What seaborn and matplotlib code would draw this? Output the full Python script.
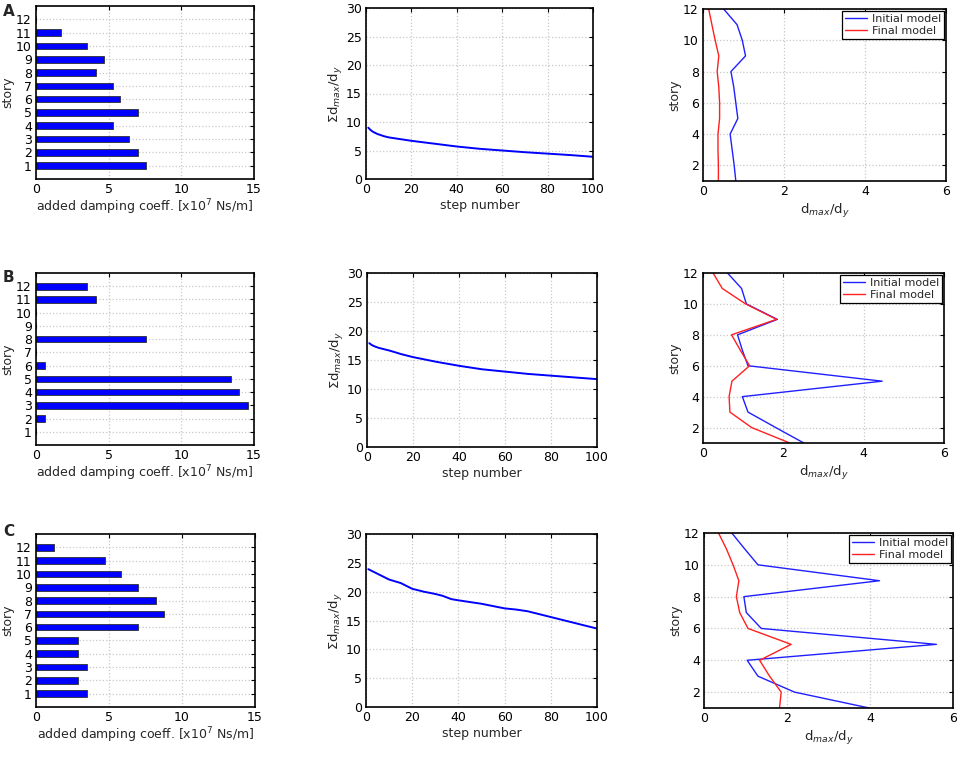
import numpy as np
import pandas as pd
import matplotlib
matplotlib.use("Agg")
import matplotlib.pyplot as plt
import seaborn as sns

# ---- data ----
stories = list(range(1, 13))

# added damping coefficient per story [x10^7 Ns/m], story 1..12
damping_a = [7.6, 7.0, 6.4, 5.3, 7.0, 5.8, 5.3, 4.1, 4.7, 3.5, 1.7, 0.0]
damping_b = [0.0, 0.6, 14.6, 14.0, 13.4, 0.6, 0.0, 7.6, 0.0, 0.0, 4.1, 3.5]
damping_c = [3.5, 2.9, 3.5, 2.9, 2.9, 7.0, 8.8, 8.2, 7.0, 5.8, 4.7, 1.2]

# sum of dmax/dy vs step number
steps_a = [1, 2, 3, 5, 8, 10, 15, 20, 30, 40, 50, 60, 70, 80, 90, 100]
sum_a = [9.0, 8.6, 8.3, 7.9, 7.5, 7.3, 7.0, 6.7, 6.2, 5.7, 5.3, 5.0, 4.7, 4.45, 4.2, 3.9]
steps_b = [1, 2, 3, 5, 10, 15, 20, 30, 40, 50, 60, 70, 80, 90, 100]
sum_b = [17.9, 17.6, 17.4, 17.1, 16.6, 16.0, 15.5, 14.7, 14.0, 13.4, 13.0, 12.6, 12.3, 12.0, 11.7]
steps_c = [1, 5, 10, 15, 20, 25, 30, 33, 37, 40, 50, 60, 65, 70, 80, 85, 90, 100]
sum_c = [23.9, 23.1, 22.1, 21.5, 20.5, 20.0, 19.6, 19.3, 18.7, 18.5, 17.9, 17.1, 16.9, 16.6, 15.6, 15.1, 14.6, 13.6]

# dmax/dy profiles, story 1..12
init_a = [0.81, 0.77, 0.72, 0.67, 0.86, 0.81, 0.76, 0.69, 1.05, 0.97, 0.84, 0.51]
final_a = [0.38, 0.38, 0.37, 0.37, 0.41, 0.41, 0.39, 0.35, 0.39, 0.30, 0.22, 0.14]
init_b = [2.51, 1.81, 1.12, 0.98, 4.46, 1.12, 0.98, 0.86, 1.85, 1.08, 0.96, 0.61]
final_b = [2.16, 1.21, 0.67, 0.65, 0.72, 1.16, 0.93, 0.71, 1.83, 1.06, 0.48, 0.25]
init_c = [3.98, 2.18, 1.30, 1.04, 5.60, 1.38, 1.02, 0.96, 4.23, 1.30, 0.98, 0.67]
final_c = [1.82, 1.86, 1.58, 1.34, 2.10, 1.06, 0.86, 0.78, 0.84, 0.70, 0.54, 0.35]

panel_labels = ["A", "B", "C"]

sns.set_style("white")
plt.rcParams['font.family'] = ['DejaVu Sans']
plt.rcParams['mathtext.fontset'] = 'dejavusans'

W, H = 960, 758
fig = plt.figure(figsize=(W / 100, H / 100), dpi=100)


def rect(l, t, r, b):
    return [l / W, 1 - b / H, (r - l) / W, (b - t) / H]


# pixel boxes (left, top, right, bottom) for each row
bar_boxes = [(36, 6, 254, 179), (36, 273, 254, 445), (36, 534, 255, 707)]
mid_boxes = [(366, 8, 593, 179), (367, 273, 597, 447), (366, 534, 597, 707)]
right_boxes = [(703, 9, 946, 181), (703, 273, 944, 443), (704, 533, 953, 708)]
letter_y = [12, 278, 531]

damping = [damping_a, damping_b, damping_c]
steps = [steps_a, steps_b, steps_c]
sums = [sum_a, sum_b, sum_c]
inits = [init_a, init_b, init_c]
finals = [final_a, final_b, final_c]

fs = 9


def style(ax):
    ax.grid(True, color='#c8c8c8', linestyle=':', linewidth=0.9)
    ax.set_axisbelow(True)
    for s in ax.spines.values():
        s.set_color('black')
        s.set_linewidth(1.2)
        s.set_visible(True)
    ax.tick_params(direction='in', top=True, right=True, length=3, width=0.8,
                   labelsize=fs, colors='black', pad=3)


for i in range(3):
    # bar chart
    ax = fig.add_axes(rect(*bar_boxes[i]))
    df = pd.DataFrame({'story': stories, 'c': damping[i]})
    sns.barplot(data=df, x='c', y='story', orient='y', native_scale=True,
                width=0.5, color='#0000ff', saturation=1, edgecolor='#303030',
                linewidth=0.6, ax=ax)
    ax.set_xlim(0, 15)
    ax.set_ylim(0, 13)
    ax.set_xticks([0, 5, 10, 15])
    ax.set_yticks(stories)
    style(ax)
    ax.set_xlabel('added damping coeff. [x10$^7$ Ns/m]', fontsize=fs, labelpad=1)
    ax.set_ylabel('story', fontsize=fs, labelpad=1)
    fig.text(3 / W, 1 - letter_y[i] / H, panel_labels[i], fontsize=11,
             fontweight='bold', va='center', ha='left')

    # convergence line
    ax = fig.add_axes(rect(*mid_boxes[i]))
    sns.lineplot(x=steps[i], y=sums[i], color='#0000ff', linewidth=1.4, ax=ax)
    ax.set_xlim(0, 100)
    ax.set_ylim(0, 30)
    ax.set_xticks(range(0, 101, 20))
    ax.set_yticks(range(0, 31, 5))
    style(ax)
    ax.set_xlabel('step number', fontsize=fs, labelpad=2)
    ax.set_ylabel(r'$\Sigma$d$_{max}$/d$_y$', fontsize=fs + 0.5, labelpad=1)

    # story drift profiles
    ax = fig.add_axes(rect(*right_boxes[i]))
    sns.lineplot(x=inits[i], y=stories, sort=False, estimator=None,
                 color='#2020ff', linewidth=1.0, label='Initial model', ax=ax)
    sns.lineplot(x=finals[i], y=stories, sort=False, estimator=None,
                 color='#ff2020', linewidth=1.0, label='Final model', ax=ax)
    ax.set_xlim(0, 6)
    ax.set_ylim(1, 12)
    ax.set_xticks([0, 2, 4, 6])
    ax.set_yticks([2, 4, 6, 8, 10, 12])
    style(ax)
    ax.set_xlabel('d$_{max}$/d$_y$', fontsize=fs + 0.5, labelpad=3)
    ax.set_ylabel('story', fontsize=fs, labelpad=1)
    leg = ax.legend(loc='upper right', fontsize=8, fancybox=False,
                    framealpha=1, edgecolor='black', borderpad=0.3,
                    handlelength=2.0, handletextpad=0.4, labelspacing=0.15,
                    borderaxespad=0.15)
    leg.get_frame().set_linewidth(0.9)

fig.savefig('out.png', dpi=100)
